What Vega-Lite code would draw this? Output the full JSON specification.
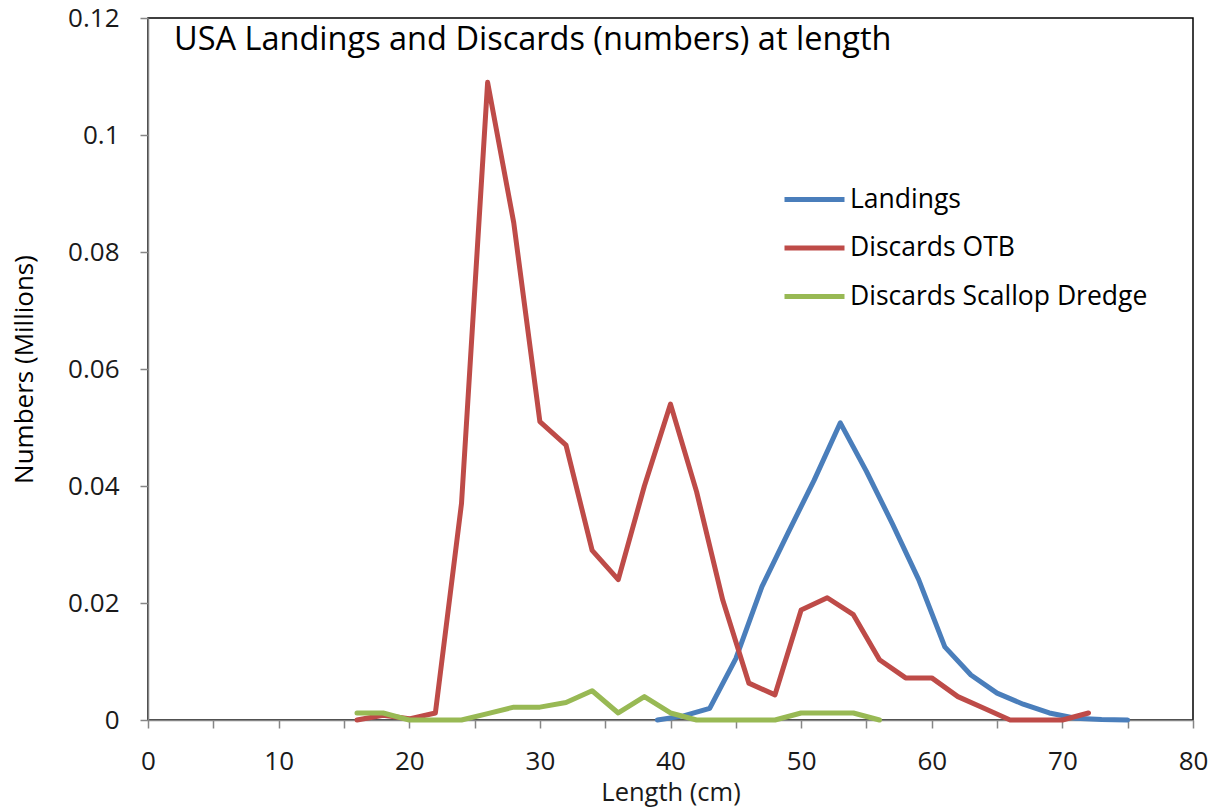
{
  "$schema": "https://vega.github.io/schema/vega-lite/v6.json",
  "width": 1045,
  "height": 702,
  "autosize": {"type": "none"},
  "padding": {"left": 148, "top": 18, "right": 32, "bottom": 89},
  "background": "white",
  "config": {
    "font": "Open Sans",
    "view": {"stroke": "#000000", "strokeWidth": 1.5}
  },
  "title": {
    "text": "USA Landings and Discards (numbers) at length",
    "anchor": "start",
    "frame": "group",
    "orient": "top",
    "fontSize": 32.5,
    "fontWeight": "normal",
    "color": "#000000",
    "baseline": "top",
    "offset": 0,
    "dx": 26,
    "dy": 51
  },
  "data": {
    "values": [
      {"series": "Landings", "length": 39, "numbers": 0},
      {"series": "Landings", "length": 41, "numbers": 0.0007},
      {"series": "Landings", "length": 43, "numbers": 0.002},
      {"series": "Landings", "length": 45, "numbers": 0.0105},
      {"series": "Landings", "length": 47, "numbers": 0.0228},
      {"series": "Landings", "length": 49, "numbers": 0.032},
      {"series": "Landings", "length": 51, "numbers": 0.041},
      {"series": "Landings", "length": 53, "numbers": 0.0508},
      {"series": "Landings", "length": 55, "numbers": 0.0425},
      {"series": "Landings", "length": 57, "numbers": 0.0335},
      {"series": "Landings", "length": 59, "numbers": 0.024},
      {"series": "Landings", "length": 61, "numbers": 0.0125},
      {"series": "Landings", "length": 63, "numbers": 0.0077},
      {"series": "Landings", "length": 65, "numbers": 0.0046},
      {"series": "Landings", "length": 67, "numbers": 0.0027},
      {"series": "Landings", "length": 69, "numbers": 0.0012},
      {"series": "Landings", "length": 71, "numbers": 0.0003},
      {"series": "Landings", "length": 73, "numbers": 0.0001},
      {"series": "Landings", "length": 75, "numbers": 0},
      {"series": "Discards OTB", "length": 16, "numbers": 0},
      {"series": "Discards OTB", "length": 18, "numbers": 0.0008},
      {"series": "Discards OTB", "length": 20, "numbers": 0.0002},
      {"series": "Discards OTB", "length": 22, "numbers": 0.0012},
      {"series": "Discards OTB", "length": 24, "numbers": 0.037},
      {"series": "Discards OTB", "length": 26, "numbers": 0.109},
      {"series": "Discards OTB", "length": 28, "numbers": 0.085},
      {"series": "Discards OTB", "length": 30, "numbers": 0.051},
      {"series": "Discards OTB", "length": 32, "numbers": 0.047},
      {"series": "Discards OTB", "length": 34, "numbers": 0.029},
      {"series": "Discards OTB", "length": 36, "numbers": 0.024},
      {"series": "Discards OTB", "length": 38, "numbers": 0.04},
      {"series": "Discards OTB", "length": 40, "numbers": 0.054},
      {"series": "Discards OTB", "length": 42, "numbers": 0.039},
      {"series": "Discards OTB", "length": 44, "numbers": 0.0205},
      {"series": "Discards OTB", "length": 46, "numbers": 0.0063},
      {"series": "Discards OTB", "length": 48, "numbers": 0.0043},
      {"series": "Discards OTB", "length": 50, "numbers": 0.0188},
      {"series": "Discards OTB", "length": 52, "numbers": 0.0209},
      {"series": "Discards OTB", "length": 54, "numbers": 0.018},
      {"series": "Discards OTB", "length": 56, "numbers": 0.0103},
      {"series": "Discards OTB", "length": 58, "numbers": 0.0072},
      {"series": "Discards OTB", "length": 60, "numbers": 0.0072},
      {"series": "Discards OTB", "length": 62, "numbers": 0.004},
      {"series": "Discards OTB", "length": 64, "numbers": 0.002},
      {"series": "Discards OTB", "length": 66, "numbers": 0},
      {"series": "Discards OTB", "length": 68, "numbers": 0},
      {"series": "Discards OTB", "length": 70, "numbers": 0},
      {"series": "Discards OTB", "length": 72, "numbers": 0.0012},
      {"series": "Discards Scallop Dredge", "length": 16, "numbers": 0.0012},
      {"series": "Discards Scallop Dredge", "length": 18, "numbers": 0.0012},
      {"series": "Discards Scallop Dredge", "length": 20, "numbers": 0},
      {"series": "Discards Scallop Dredge", "length": 22, "numbers": 0},
      {"series": "Discards Scallop Dredge", "length": 24, "numbers": 0},
      {"series": "Discards Scallop Dredge", "length": 26, "numbers": 0.0011},
      {"series": "Discards Scallop Dredge", "length": 28, "numbers": 0.0022},
      {"series": "Discards Scallop Dredge", "length": 30, "numbers": 0.0022},
      {"series": "Discards Scallop Dredge", "length": 32, "numbers": 0.003},
      {"series": "Discards Scallop Dredge", "length": 34, "numbers": 0.005},
      {"series": "Discards Scallop Dredge", "length": 36, "numbers": 0.0012},
      {"series": "Discards Scallop Dredge", "length": 38, "numbers": 0.004},
      {"series": "Discards Scallop Dredge", "length": 40, "numbers": 0.0012},
      {"series": "Discards Scallop Dredge", "length": 42, "numbers": 0},
      {"series": "Discards Scallop Dredge", "length": 44, "numbers": 0},
      {"series": "Discards Scallop Dredge", "length": 46, "numbers": 0},
      {"series": "Discards Scallop Dredge", "length": 48, "numbers": 0},
      {"series": "Discards Scallop Dredge", "length": 50, "numbers": 0.0012},
      {"series": "Discards Scallop Dredge", "length": 52, "numbers": 0.0012},
      {"series": "Discards Scallop Dredge", "length": 54, "numbers": 0.0012},
      {"series": "Discards Scallop Dredge", "length": 56, "numbers": 0}
    ]
  },
  "mark": {"type": "line", "strokeWidth": 5, "strokeJoin": "round", "strokeCap": "round"},
  "encoding": {
    "x": {
      "field": "length",
      "type": "quantitative",
      "scale": {"domain": [0, 80], "nice": false, "zero": false},
      "axis": {
        "values": [0, 5, 10, 15, 20, 25, 30, 35, 40, 45, 50, 55, 60, 65, 70, 75, 80],
        "labelExpr": "datum.value % 10 === 0 ? datum.label : ''",
        "grid": false,
        "tickSize": 8,
        "tickColor": "#868686",
        "domainColor": "#868686",
        "tickWidth": 1.5,
        "domainWidth": 1.5,
        "labelFontSize": 26,
        "labelColor": "#1a1a1a",
        "labelPadding": 20,
        "labelFlush": false,
        "labelOverlap": false,
        "title": "Length (cm)",
        "titleFontSize": 25.5,
        "titleFontWeight": "normal",
        "titleColor": "#1a1a1a",
        "titlePadding": 6
      }
    },
    "y": {
      "field": "numbers",
      "type": "quantitative",
      "scale": {"domain": [0, 0.12], "nice": false},
      "axis": {
        "values": [0, 0.02, 0.04, 0.06, 0.08, 0.1, 0.12],
        "format": ".2~f",
        "grid": false,
        "tickSize": 8,
        "tickColor": "#868686",
        "domainColor": "#868686",
        "tickWidth": 1.5,
        "domainWidth": 1.5,
        "labelFontSize": 26,
        "labelColor": "#1a1a1a",
        "labelPadding": 21,
        "labelFlush": false,
        "labelOverlap": false,
        "title": "Numbers (Millions)",
        "titleFontSize": 26,
        "titleFontWeight": "normal",
        "titleColor": "#000000",
        "titlePadding": 30
      }
    },
    "color": {
      "field": "series",
      "type": "nominal",
      "sort": ["Landings", "Discards OTB", "Discards Scallop Dredge"],
      "scale": {
        "domain": ["Landings", "Discards OTB", "Discards Scallop Dredge"],
        "range": ["#4A7EBB", "#BE4B48", "#98B954"]
      },
      "legend": {
        "orient": "none",
        "legendX": 634,
        "legendY": 149,
        "title": null,
        "symbolType": "stroke",
        "symbolSize": 3600,
        "symbolStrokeWidth": 5,
        "labelFontSize": 26.5,
        "labelColor": "#000000",
        "labelOffset": 3,
        "rowPadding": 2.5,
        "labelLimit": 400
      }
    }
  }
}
